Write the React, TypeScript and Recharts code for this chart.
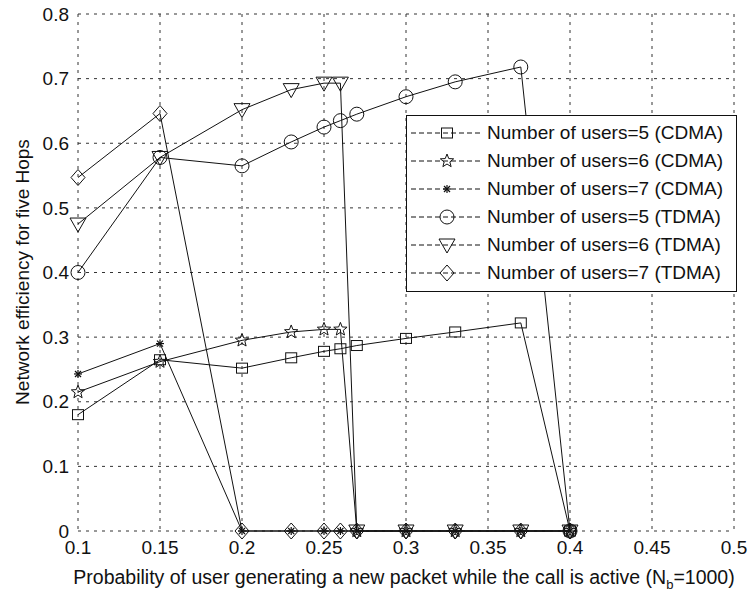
import React from 'react';
import { LineChart, Line, XAxis, YAxis, CartesianGrid, Legend, Label } from 'recharts';

const xValues = [0.1, 0.15, 0.2, 0.23, 0.25, 0.26, 0.27, 0.3, 0.33, 0.37, 0.4];
const cdma5 = [0.18, 0.265, 0.252, 0.268, 0.278, 0.282, 0.287, 0.298, 0.308, 0.322, 0];
const cdma6 = [0.215, 0.262, 0.295, 0.308, 0.312, 0.312, 0, 0, 0, 0, 0];
const cdma7 = [0.243, 0.29, 0, 0, 0, 0, 0, 0, 0, 0, 0];
const tdma5 = [0.4, 0.578, 0.565, 0.602, 0.625, 0.635, 0.645, 0.672, 0.695, 0.718, 0];
const tdma6 = [0.475, 0.578, 0.652, 0.683, 0.693, 0.693, 0, 0, 0, 0, 0];
const tdma7 = [0.547, 0.646, 0, 0, 0, 0, 0, 0, 0, 0, 0];

const xTicks = [0.1, 0.15, 0.2, 0.25, 0.3, 0.35, 0.4, 0.45, 0.5];
const yTicks = [0, 0.1, 0.2, 0.3, 0.4, 0.5, 0.6, 0.7, 0.8];

const seriesNames = [
  'Number of users=5 (CDMA)',
  'Number of users=6 (CDMA)',
  'Number of users=7 (CDMA)',
  'Number of users=5 (TDMA)',
  'Number of users=6 (TDMA)',
  'Number of users=7 (TDMA)',
];
const seriesKeys = ['cdma5', 'cdma6', 'cdma7', 'tdma5', 'tdma6', 'tdma7'];
const seriesValues = [cdma5, cdma6, cdma7, tdma5, tdma6, tdma7];

const data = xValues.map((x, i) => {
  const row: Record<string, number> = { x };
  seriesKeys.forEach((k, j) => {
    row[k] = seriesValues[j][i];
  });
  return row;
});

const FONT = '"Liberation Sans", Arial, Helvetica, sans-serif';
const INK = '#111';

type MP = { cx: number; cy: number };

const SquareM = ({ cx, cy }: MP) => (
  <rect x={cx - 5.5} y={cy - 5} width={11} height={10} fill="none" stroke={INK} strokeWidth={1} />
);
const StarM = ({ cx, cy }: MP) => {
  const pts: string[] = [];
  for (let i = 0; i < 10; i++) {
    const r = i % 2 === 0 ? 7 : 3;
    const a = -Math.PI / 2 + (i * Math.PI) / 5;
    pts.push(`${cx + r * Math.cos(a)},${cy + r * Math.sin(a)}`);
  }
  return <polygon points={pts.join(' ')} fill="none" stroke={INK} strokeWidth={1} />;
};
const AsteriskM = ({ cx, cy }: MP) => (
  <g stroke={INK} strokeWidth={1.2}>
    <line x1={cx - 4} y1={cy} x2={cx + 4} y2={cy} />
    <line x1={cx} y1={cy - 4} x2={cx} y2={cy + 4} />
    <line x1={cx - 3} y1={cy - 3} x2={cx + 3} y2={cy + 3} />
    <line x1={cx - 3} y1={cy + 3} x2={cx + 3} y2={cy - 3} />
  </g>
);
const CircleM = ({ cx, cy }: MP) => (
  <circle cx={cx} cy={cy} r={7} fill="none" stroke={INK} strokeWidth={1} />
);
const TriangleM = ({ cx, cy }: MP) => (
  <polygon
    points={`${cx - 8},${cy - 6} ${cx + 8},${cy - 6} ${cx},${cy + 8}`}
    fill="none"
    stroke={INK}
    strokeWidth={1}
  />
);
const DiamondM = ({ cx, cy }: MP) => (
  <polygon
    points={`${cx},${cy - 8} ${cx + 7},${cy} ${cx},${cy + 8} ${cx - 7},${cy}`}
    fill="none"
    stroke={INK}
    strokeWidth={1}
  />
);

const markers = [SquareM, StarM, AsteriskM, CircleM, TriangleM, DiamondM];

const makeDot = (M: (p: MP) => React.ReactElement, tag: string) => (p: any) => {
  if (p.cx == null || p.cy == null) return <g key={`${tag}-${p.index}`} />;
  return (
    <g key={`${tag}-${p.index}`}>
      <M cx={p.cx} cy={p.cy} />
    </g>
  );
};

const renderLegend = () => (
  <div
    style={{
      border: `1px solid ${INK}`,
      background: '#fff',
      width: 331,
      height: 177,
      boxSizing: 'border-box',
      paddingTop: 3,
      fontFamily: FONT,
      fontSize: 19,
      color: INK,
    }}
  >
    {seriesNames.map((name, i) => {
      const M = markers[i];
      return (
        <div key={name} style={{ height: 28, display: 'flex', alignItems: 'center' }}>
          <svg width={80} height={28} style={{ flex: 'none' }}>
            <line x1={4} y1={14} x2={76} y2={14} stroke={INK} strokeWidth={1} strokeDasharray="5 3" />
            <M cx={40} cy={14} />
          </svg>
          <span style={{ whiteSpace: 'nowrap' }}>{name}</span>
        </div>
      );
    })}
  </div>
);

const YTitle = () => (
  <text
    x={22}
    y={272}
    transform="rotate(-90 22 272)"
    textAnchor="middle"
    dominantBaseline="central"
    fontFamily={FONT}
    fontSize={19}
    fill={INK}
  >
    Network efficiency for five Hops
  </text>
);

const XTitle = () => (
  <text x={404} y={584} textAnchor="middle" fontFamily={FONT} fontSize={19.5} fill={INK}>
    Probability of user generating a new packet while the call is active (N
    <tspan fontSize={13} dy={5}>b</tspan>
    <tspan dy={-5}>=1000)</tspan>
  </text>
);

export default function App() {
  return (
    <div style={{ position: 'absolute', left: 0, top: 0, width: 751, height: 591, background: '#fff' }}>
      <LineChart
        width={751}
        height={591}
        data={data}
        margin={{ top: 14, right: 17, bottom: 0, left: 0 }}
      >
        <CartesianGrid
          stroke="#333"
          strokeDasharray="3 5"
          strokeWidth={1}
          horizontalValues={yTicks}
          verticalValues={xTicks}
        />
        <XAxis
          dataKey="x"
          type="number"
          domain={[0.1, 0.5]}
          ticks={xTicks}
          height={60}
          axisLine={false}
          tickLine={false}
          tickMargin={4}
          tick={{ fontFamily: FONT, fontSize: 19, fill: INK }}
          tickFormatter={(v: number) => String(+v.toFixed(2))}
        >
          <Label content={() => <XTitle />} />
        </XAxis>
        <YAxis
          type="number"
          domain={[0, 0.8]}
          ticks={yTicks}
          width={78}
          axisLine={false}
          tickLine={false}
          tickMargin={3}
          tick={{ fontFamily: FONT, fontSize: 19, fill: INK }}
          tickFormatter={(v: number) => String(+v.toFixed(1))}
        >
          <Label content={() => <YTitle />} />
        </YAxis>
        <Legend
          layout="vertical"
          align="center"
          verticalAlign="middle"
          width={331}
          content={renderLegend}
          wrapperStyle={{ left: 406, top: 115, width: 331, height: 177 }}
        />
        {seriesKeys.map((k, i) => (
          <Line
            key={k}
            dataKey={k}
            name={seriesNames[i]}
            type="linear"
            stroke={INK}
            strokeWidth={1}
            dot={makeDot(markers[i], k)}
            activeDot={false}
            isAnimationActive={false}
          />
        ))}
      </LineChart>
    </div>
  );
}
